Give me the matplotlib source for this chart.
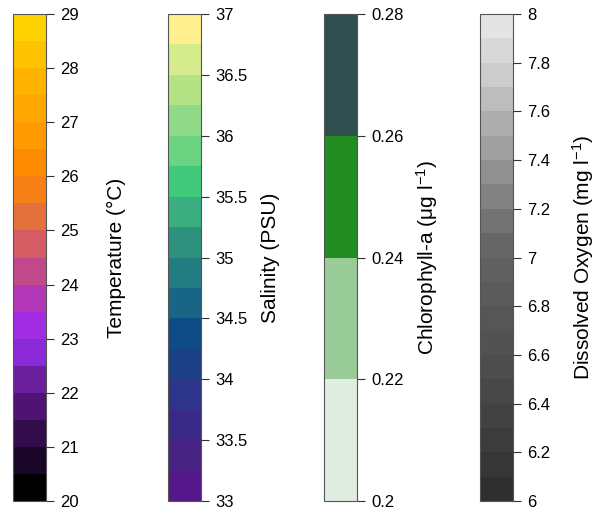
import numpy as np
import matplotlib
matplotlib.use('Agg')
import matplotlib.pyplot as plt
from matplotlib import colors, cm

plt.rcParams['font.family'] = ['Liberation Sans', 'DejaVu Sans']
plt.rcParams['mathtext.fontset'] = 'custom'
plt.rcParams['mathtext.rm'] = 'Liberation Sans'

# colour bins, bottom -> top
temp_colors = ['#000000', '#1a0626', '#320c4a', '#4e1373', '#6a1f9c', '#8a2ad6',
               '#a12de3', '#b238b7', '#c2488c', '#d45c62', '#e4703b', '#f68016',
               '#fe8b00', '#ff9b00', '#ffa600', '#ffb200', '#ffc200', '#ffd300']
temp_range = [20, 29]
temp_ticks = [20, 21, 22, 23, 24, 25, 26, 27, 28, 29]

sal_colors = ['#55188b', '#472484', '#3a2a88', '#2c358a', '#1c4088', '#0f4c87',
              '#186585', '#237c82', '#2e917d', '#3aae80', '#40c97b', '#6bd482',
              '#90da89', '#b4e385', '#d6ec8c', '#fff08d']
sal_range = [33, 37]
sal_ticks = [33, 33.5, 34, 34.5, 35, 35.5, 36, 36.5, 37]

chl_colors = ['#dfeee0', '#99cc99', '#228b22', '#2f4f4f']
chl_range = [0.2, 0.28]
chl_ticks = [0.2, 0.22, 0.24, 0.26, 0.28]

do_colors = ['#2f2f2f', '#363636', '#3c3c3c', '#424242', '#474747', '#4d4d4d',
             '#525252', '#565656', '#5b5b5b', '#606060', '#666666', '#737373',
             '#828282', '#909090', '#a0a0a0', '#adadad', '#bdbdbd', '#cccccc',
             '#d8d8d8', '#e4e4e4']
do_range = [6, 8]
do_ticks = [6, 6.2, 6.4, 6.6, 6.8, 7, 7.2, 7.4, 7.6, 7.8, 8]

labels = ['Temperature (°C)', 'Salinity (PSU)',
          'Chlorophyll-a (μg l$\\mathregular{^{-1}}$)',
          'Dissolved Oxygen (mg l$\\mathregular{^{-1}}$)']

W, H = 606, 529
fig = plt.figure(figsize=(W / 100, H / 100), dpi=100)

lefts = [13, 168, 324, 480]   # px
bar_w = 33
top, bottom = 14, 501

sets = [(temp_colors, temp_range, temp_ticks),
        (sal_colors, sal_range, sal_ticks),
        (chl_colors, chl_range, chl_ticks),
        (do_colors, do_range, do_ticks)]

for i, (cols, rng, ticks) in enumerate(sets):
    ax = fig.add_axes([lefts[i] / W, (H - bottom) / H, bar_w / W, (bottom - top) / H])
    cmap = colors.ListedColormap(cols)
    bounds = np.linspace(rng[0], rng[1], len(cols) + 1)
    norm = colors.BoundaryNorm(bounds, cmap.N)
    cb = fig.colorbar(cm.ScalarMappable(norm=norm, cmap=cmap), cax=ax,
                      ticks=ticks, spacing='uniform')
    cb.minorticks_off()
    cb.ax.set_yticklabels(['%g' % t for t in ticks])
    cb.outline.set_edgecolor('#555555')
    cb.outline.set_linewidth(0.8)
    cb.ax.tick_params(axis='y', which='major', length=6, width=0.8, color='#333333',
                      pad=4, labelsize=12)
    ax.text(1 + 70 / bar_w, 0.5, labels[i], rotation=90, ha='center', va='center',
            fontsize=15, transform=ax.transAxes)

fig.savefig('out.png', dpi=100)
